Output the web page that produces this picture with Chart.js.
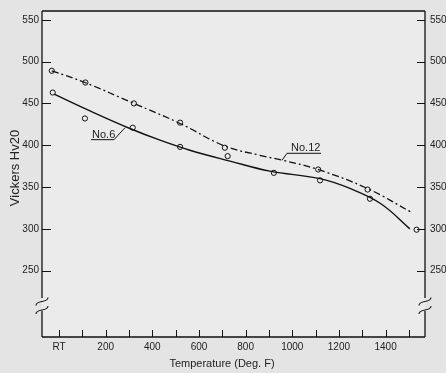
<!DOCTYPE html>
<html>
<head>
<meta charset="utf-8">
<script src="https://cdn.jsdelivr.net/npm/chart.js@4"></script>
<style>
  html, body { margin: 0; padding: 0; background: #e4e4e4; }
  #wrap { width: 446px; height: 373px; }
</style>
</head>
<body>
<div id="wrap"><canvas id="grafico" width="446" height="373"></canvas></div>
<script>
// temperaturas (Deg. F), RT dibujado un poco antes del 0
const tempPuntos6 = [-27, 111, 316, 519, 723, 921, 1119, 1333, 1533];
const durezaPuntos6 = [463, 432, 421, 398, 387, 367, 358, 336, 299];
const tempPuntos12 = [-31, 113, 321, 519, 711, 1111, 1323];
const durezaPuntos12 = [489, 475, 450, 427, 397, 371, 347];

// curvas ajustadas
const tempCurva6 = [-21, 133, 304, 433, 561, 733, 904, 1119, 1250, 1380, 1504];
const durezaCurva6 = [461, 441, 420, 406, 394, 381, 369, 360, 348, 330, 300];
const tempCurva12 = [-31, 111, 321, 519, 711, 861, 960, 1110, 1324, 1516];
const durezaCurva12 = [489, 475, 450, 426, 399, 388, 382, 371, 348, 319];

const ticksX = [0, 100, 200, 300, 400, 500, 600, 700, 800, 900, 1000, 1100, 1200, 1300, 1400, 1500];
const ticksY = [250, 300, 350, 400, 450, 500, 550];

const tinta = '#111';
const fuente = "'Liberation Sans', Arial, sans-serif";

const pares = (xs, ys) => xs.map((x, i) => ({ x: x, y: ys[i] }));

const decoracion = {
    id: 'decoracion',
    beforeDraw(chart) {
        const { ctx, chartArea: a } = chart;
        ctx.save();
        ctx.fillStyle = '#ebebeb';
        ctx.fillRect(a.left, a.top, a.right - a.left, a.bottom - a.top);
        ctx.restore();
    },
    afterDraw(chart) {
        const { ctx, chartArea: a, scales } = chart;
        const x = scales.x, y = scales.y;
        ctx.save();
        ctx.strokeStyle = tinta;
        ctx.lineWidth = 1.3;

        // marco con corte en el eje vertical
        const corteArriba = 298, corteAbajo = 311;
        ctx.beginPath();
        ctx.moveTo(a.left, a.top); ctx.lineTo(a.right, a.top);
        ctx.moveTo(a.left, a.top); ctx.lineTo(a.left, corteArriba);
        ctx.moveTo(a.left, corteAbajo); ctx.lineTo(a.left, a.bottom);
        ctx.moveTo(a.right, a.top); ctx.lineTo(a.right, corteArriba);
        ctx.moveTo(a.right, corteAbajo); ctx.lineTo(a.right, a.bottom);
        ctx.moveTo(a.left, a.bottom); ctx.lineTo(a.right, a.bottom);
        ctx.stroke();

        // simbolo de corte
        ctx.lineWidth = 1.1;
        [a.left, a.right].forEach(cx => {
            [301.5, 310].forEach(cy => {
                ctx.beginPath();
                ctx.moveTo(cx - 6, cy + 4);
                ctx.bezierCurveTo(cx - 6, cy - 2, cx + 6, cy + 2, cx + 6, cy - 4);
                ctx.stroke();
            });
        });

        // marcas hacia adentro
        ctx.lineWidth = 1;
        ctx.beginPath();
        ticksX.forEach(v => {
            const px = Math.round(x.getPixelForValue(v)) + 0.5;
            ctx.moveTo(px, a.bottom); ctx.lineTo(px, a.bottom - 7);
        });
        ticksY.forEach(v => {
            const py = Math.round(y.getPixelForValue(v)) + 0.5;
            ctx.moveTo(a.left, py); ctx.lineTo(a.left + 9, py);
            ctx.moveTo(a.right, py); ctx.lineTo(a.right - 8, py);
        });
        ctx.stroke();

        // titulos de ejes
        ctx.fillStyle = '#222';
        ctx.font = '11px ' + fuente;
        ctx.textAlign = 'center';
        ctx.textBaseline = 'middle';
        ctx.fillText('Temperature (Deg. F)', 222, 364);
        ctx.save();
        ctx.translate(15, 168);
        ctx.rotate(-Math.PI / 2);
        ctx.font = '13px ' + fuente;
        ctx.fillText('Vickers Hv20', 0, 0);
        ctx.restore();

        // etiquetas de las curvas
        ctx.font = '11px ' + fuente;
        ctx.textAlign = 'left';
        ctx.textBaseline = 'alphabetic';
        ctx.lineWidth = 1;

        // No.6
        let tx = x.getPixelForValue(283), ty = y.getPixelForValue(421);
        ctx.beginPath();
        ctx.moveTo(tx, ty); ctx.lineTo(tx - 11, ty + 12); ctx.lineTo(tx - 34, ty + 12);
        ctx.stroke();
        ctx.fillText('No.6', tx - 33, ty + 10);

        // No.12
        tx = x.getPixelForValue(956); ty = y.getPixelForValue(382);
        ctx.beginPath();
        ctx.moveTo(tx, ty); ctx.lineTo(tx + 5, ty - 7); ctx.lineTo(tx + 39, ty - 7);
        ctx.stroke();
        ctx.fillText('No.12', tx + 9, ty - 9);

        ctx.restore();
    }
};

const ctx = document.getElementById('grafico').getContext('2d');
const chart = new Chart(ctx, {
    type: 'scatter',
    data: {
        datasets: [
            {
                label: 'No.6',
                data: pares(tempCurva6, durezaCurva6),
                showLine: true,
                tension: 0.4,
                borderColor: tinta,
                borderWidth: 1.4,
                pointRadius: 0
            },
            {
                label: 'No.12',
                data: pares(tempCurva12, durezaCurva12),
                showLine: true,
                tension: 0.4,
                borderColor: tinta,
                borderWidth: 1.3,
                borderDash: [7, 3, 2, 3],
                pointRadius: 0
            },
            {
                label: 'No.6 datos',
                data: pares(tempPuntos6, durezaPuntos6),
                showLine: false,
                pointRadius: 2.6,
                pointBorderWidth: 1,
                pointBorderColor: tinta,
                pointBackgroundColor: '#ececec'
            },
            {
                label: 'No.12 datos',
                data: pares(tempPuntos12, durezaPuntos12),
                showLine: false,
                pointRadius: 2.6,
                pointBorderWidth: 1,
                pointBorderColor: tinta,
                pointBackgroundColor: '#ececec'
            }
        ]
    },
    options: {
        responsive: false,
        animation: false,
        layout: { padding: { top: 3, left: 0, right: 0, bottom: 0 } },
        plugins: {
            legend: { display: false },
            tooltip: { enabled: false }
        },
        scales: {
            x: {
                type: 'linear',
                min: -73,
                max: 1569,
                grid: { display: false, drawTicks: false },
                border: { display: false },
                afterBuildTicks: s => { s.ticks = ticksX.map(v => ({ value: v })); },
                afterFit: s => { s.height = 36; },
                ticks: {
                    autoSkip: false,
                    maxRotation: 0,
                    padding: 4,
                    color: '#222',
                    font: { family: fuente, size: 10 },
                    callback: v => v === 0 ? 'RT' : (v % 200 === 0 ? String(v) : '')
                }
            },
            y: {
                position: 'left',
                min: 170.7,
                max: 560.5,
                grid: { display: false, drawTicks: false },
                border: { display: false },
                afterBuildTicks: s => { s.ticks = ticksY.map(v => ({ value: v })); },
                afterFit: s => { s.width = 42; },
                ticks: {
                    padding: 3,
                    color: '#222',
                    font: { family: fuente, size: 10 }
                }
            },
            y2: {
                position: 'right',
                min: 170.7,
                max: 560.5,
                grid: { display: false, drawTicks: false },
                border: { display: false },
                afterBuildTicks: s => { s.ticks = ticksY.map(v => ({ value: v })); },
                afterFit: s => { s.width = 21; },
                ticks: {
                    padding: 5,
                    color: '#222',
                    font: { family: fuente, size: 10 }
                }
            }
        }
    },
    plugins: [decoracion]
});
</script>
</body>
</html>
